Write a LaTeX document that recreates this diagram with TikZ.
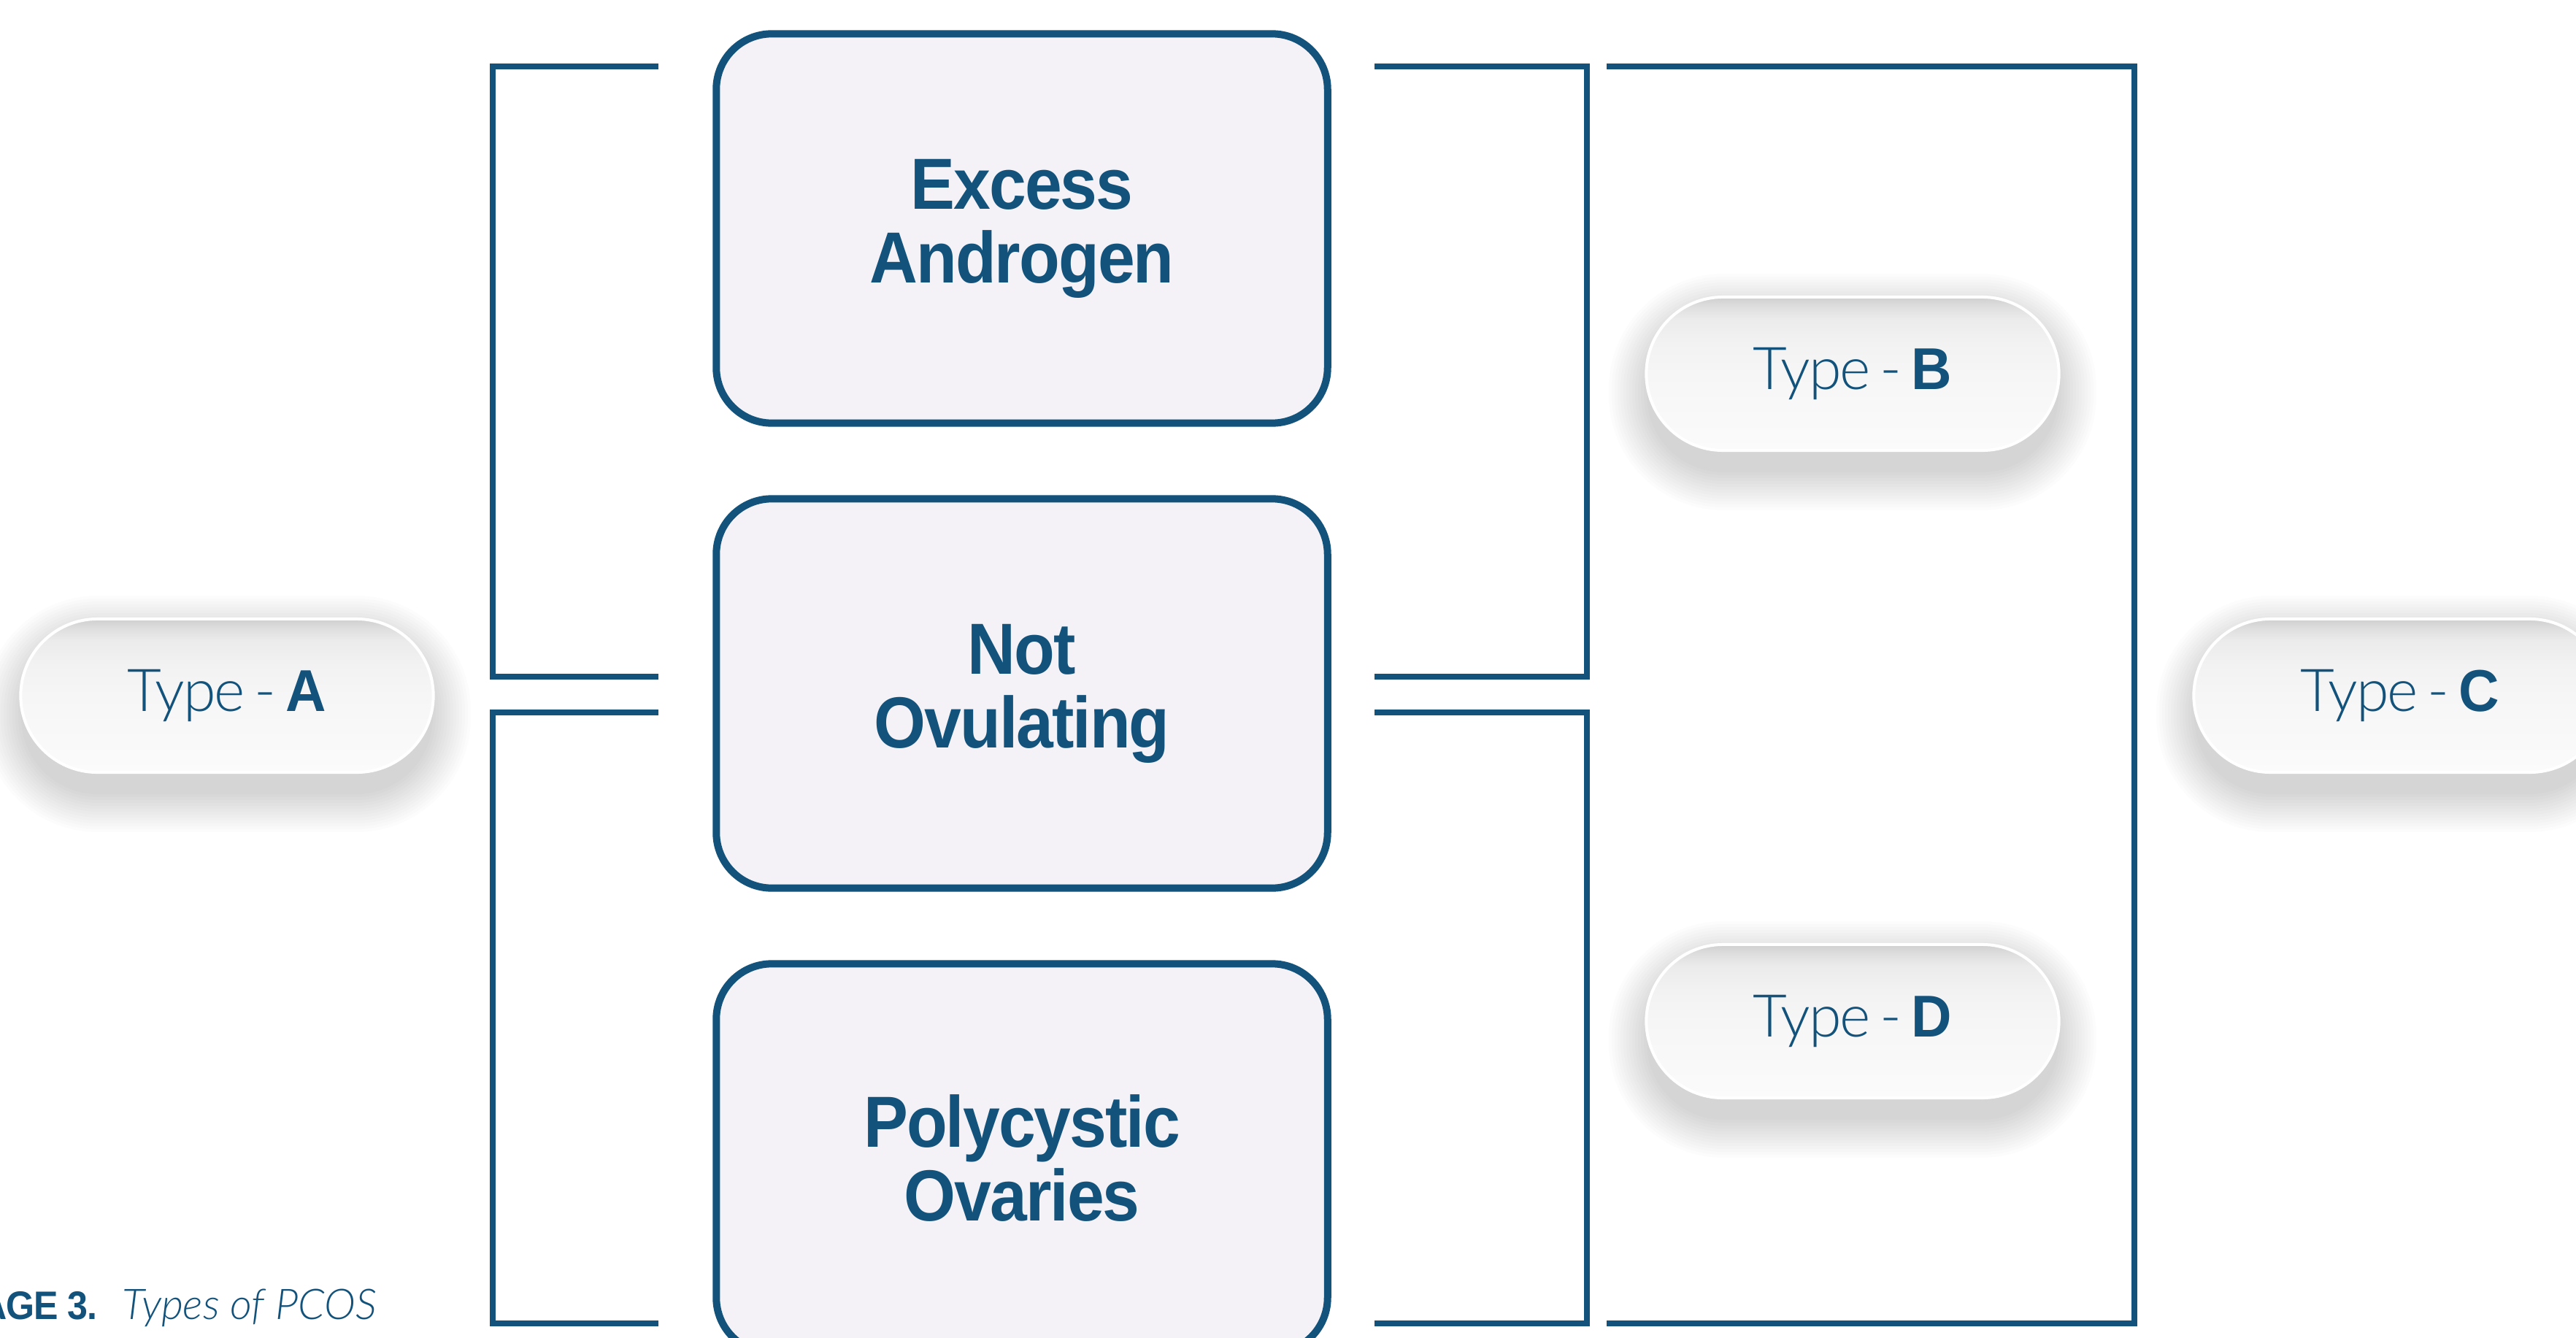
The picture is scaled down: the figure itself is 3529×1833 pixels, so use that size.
\documentclass[tikz,border=0pt]{standalone}
\usepackage{fontspec}
\setmainfont{Liberation Sans}
\newfontfamily\lightf{Lato Light}[ItalicFont={Lato Light Italic}, LetterSpace=-2.5]
\newfontfamily\capf{Lato Light}[ItalicFont={Lato Light Italic}]
\newfontfamily\heavyf{Liberation Sans}[FakeStretch=0.92, LetterSpace=-2]
\newfontfamily\letterf{Liberation Sans}[FakeStretch=0.95]
\definecolor{pcblue}{HTML}{12527B}
\definecolor{boxfill}{HTML}{F4F2F6}
\definecolor{pilltop}{HTML}{CFCFCF}
\definecolor{pilla}{HTML}{DEDEDE}
\definecolor{pillb}{HTML}{EBEBEB}
\definecolor{pillc}{HTML}{F2F2F2}
\definecolor{pilld}{HTML}{F6F6F6}
\definecolor{pillbot}{HTML}{FBFBFB}
\pgfdeclareverticalshading{pillshade}{100bp}{color(0bp)=(pillbot); color(25bp)=(pillbot); color(50bp)=(pilld); color(60bp)=(pillc); color(68bp)=(pillb); color(72bp)=(pilla); color(75bp)=(pilltop); color(100bp)=(pilltop)}
\newcommand\pillshadow[2]{%
  \foreach \i in {0,...,13}{%
    \pgfmathsetmacro\rr{1.05+0.04*\i}
    \fill[black,opacity=0.011,rounded corners=\rr cm]
      ({#1-282-4*\i},{#2-85-4*\i}) rectangle ({#1+282+4*\i},{#2+135+4*\i});
  }}
\tikzset{
  boxst/.style={draw=pcblue, line width=0.1cm, fill=boxfill, rounded corners=0.76cm,
    minimum width=8.37cm, minimum height=5.33cm, inner sep=0pt, align=center,
    text=pcblue, font={\heavyf\bfseries\fontsize{28.2}{28.7}\selectfont}},
  pillst/.style={shade, shading=pillshade, draw=white, line width=0.04cm,
    rounded corners=1.05cm, minimum width=5.65cm, minimum height=2.1cm, inner sep=0pt,
    text=pcblue, font={\lightf\fontsize{23}{27}\selectfont}},
  conn/.style={draw=pcblue, line width=0.085cm, line join=miter, line cap=butt},
  capst/.style={text=pcblue, inner sep=0pt},
}
\newcommand\typelabel[1]{Type\hspace{0.16em}-\hspace{0.16em}{\letterf\bfseries #1}}
\begin{document}
\begin{tikzpicture}[x=0.01cm, y=-0.01cm]
  \useasboundingbox (0,0) rectangle (3529,1833);
  \fill[white] (0,0) rectangle (3529,1833);
  \clip (0,0) rectangle (3529,1833);

  % connectors (brackets)
  \coordinate (lu1) at (902,91);   \coordinate (lu2) at (902,927);
  \coordinate (ll1) at (902,976);  \coordinate (ll2) at (902,1813);
  \coordinate (ru1) at (1883,91);  \coordinate (ru2) at (1883,927);
  \coordinate (rl1) at (1883,976); \coordinate (rl2) at (1883,1813);
  \coordinate (ro1) at (2201,91);  \coordinate (ro2) at (2201,1813);
  \draw[conn] (lu1) -- (675,91) -- (675,927) -- (lu2);
  \draw[conn] (ll1) -- (675,976) -- (675,1813) -- (ll2);
  \draw[conn] (ru1) -- (2174,91) -- (2174,927) -- (ru2);
  \draw[conn] (rl1) -- (2174,976) -- (2174,1813) -- (rl2);
  \draw[conn] (ro1) -- (2924,91) -- (2924,1813) -- (ro2);

  % boxes
  \node[boxst] (excess) at (1400,313) {Excess\\Androgen};
  \node[boxst] (notov) at (1400,950) {Not\\Ovulating};
  \node[boxst] (poly) at (1400,1587) {Polycystic\\Ovaries};

  % pills
  \pillshadow{311}{953}
  \pillshadow{2538}{512}
  \pillshadow{2538}{1399}
  \pillshadow{3288}{953}
  \node[pillst] (typeA) at (311,953) {\typelabel{A}};
  \node[pillst] (typeB) at (2538,512) {\typelabel{B}};
  \node[pillst] (typeD) at (2538,1399) {\typelabel{D}};
  \node[pillst] (typeC) at (3288,953) {\typelabel{C}};

  % caption
  \node[capst, anchor=base east, font={\heavyf\bfseries\fontsize{15.5}{18}\selectfont}] (figlab) at (134,1807) {IMAGE 3.};
  \node[capst, anchor=base west, font={\capf\itshape\fontsize{16.5}{19}\selectfont}] (figcap) at (167,1807) {Types of PCOS};
\end{tikzpicture}
\end{document}
